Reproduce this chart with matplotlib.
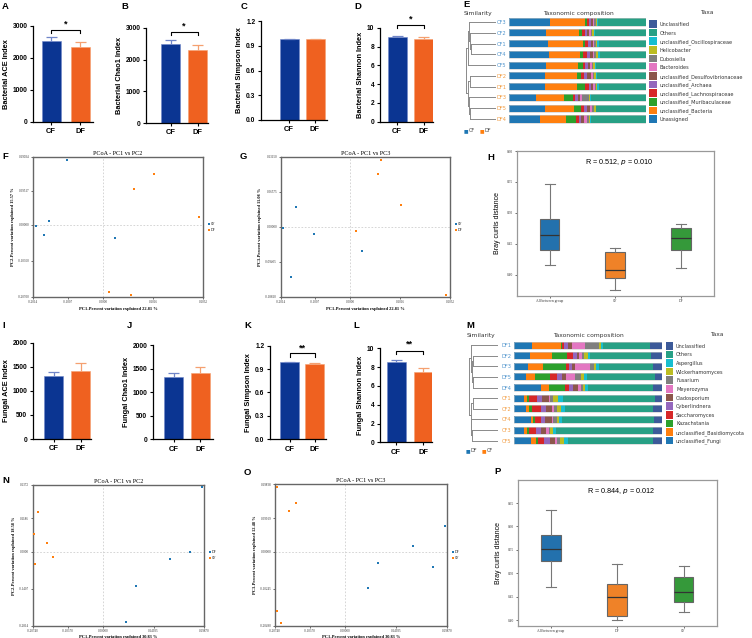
import numpy as np
import matplotlib
matplotlib.use("Agg")
import matplotlib.pyplot as plt

W, H = 752, 638

# ---------------- alpha diversity (mean, sd) ----------------
groups = ["CF", "DF"]
bac_ace, bac_ace_sd = [2531, 2334], [116, 156]
bac_chao1, bac_chao1_sd = [2504, 2305], [107, 148]
bac_simpson, bac_simpson_sd = [0.985, 0.985], [0.002, 0.002]
bac_shannon, bac_shannon_sd = [9.05, 8.80], [0.10, 0.22]
fun_ace, fun_ace_sd = [1308, 1406], [77, 166]
fun_chao1, fun_chao1_sd = [1315, 1400], [85, 140]
fun_simpson, fun_simpson_sd = [0.990, 0.965], [0.003, 0.015]
fun_shannon, fun_shannon_sd = [8.57, 7.48], [0.15, 0.39]

# ---------------- taxonomic composition (%) ----------------
bac_taxa = ["Unassigned", "unclassified_Bacteria", "unclassified_Muribaculaceae",
            "unclassified_Lachnospiraceae", "unclassified_Archaea",
            "unclassified_Desulfovibrionaceae", "Bacteroides", "Dubosiella",
            "Helicobacter", "unclassified_Oscillospiraceae", "Others", "Unclassified"]
bac_samples = ["CF3", "CF2", "CF1", "CF4", "CF5", "DF2", "DF1", "DF3", "DF5", "DF4"]
bac_comp = [
    [30.0, 25.5, 1.3, 1.8, 1.2, 1.5, 0.8, 1.2, 0.7, 0.8, 35.2, 0.0],
    [26.8, 24.1, 2.2, 2.2, 1.7, 1.5, 1.0, 1.2, 1.2, 1.0, 37.1, 0.0],
    [28.5, 25.1, 2.0, 2.2, 1.7, 1.5, 1.2, 1.2, 1.0, 1.0, 34.6, 0.0],
    [29.3, 22.7, 2.0, 3.2, 2.0, 1.7, 1.0, 1.5, 1.2, 1.5, 33.9, 0.0],
    [26.8, 23.7, 3.2, 2.0, 2.0, 1.5, 1.0, 1.2, 1.0, 0.7, 36.9, 0.0],
    [25.9, 23.7, 2.7, 2.2, 2.4, 3.2, 1.2, 1.0, 1.0, 0.5, 36.2, 0.0],
    [26.1, 23.2, 6.3, 2.4, 2.0, 1.5, 1.0, 1.0, 1.0, 1.0, 34.5, 0.0],
    [19.5, 20.5, 6.6, 1.7, 2.0, 1.5, 1.5, 5.1, 0.7, 0.5, 40.4, 0.0],
    [25.9, 21.5, 5.4, 2.0, 2.0, 2.4, 1.5, 1.5, 1.0, 0.5, 36.3, 0.0],
    [22.4, 18.8, 7.8, 2.0, 1.7, 1.7, 2.2, 1.5, 1.0, 1.0, 39.9, 0.0],
]
fun_taxa = ["unclassified_Fungi", "unclassified_Basidiomycota", "Kazachstania",
            "Saccharomyces", "Cyberlindnera", "Cladosporium", "Meyerozyma", "Fusarium",
            "Wickerhamomyces", "Aspergillus", "Others", "Unclassified"]
fun_samples = ["DF1", "DF2", "DF3", "DF5", "DF4", "CF1", "CF2", "CF4", "CF3", "CF5"]
fun_comp = [
    [12.1, 19.6, 0.5, 1.8, 2.5, 2.4, 9.0, 9.7, 1.1, 1.6, 31.4, 8.3],
    [10.8, 14.8, 10.1, 4.0, 2.5, 1.8, 1.8, 1.6, 2.2, 1.6, 41.1, 7.7],
    [9.2, 10.6, 15.3, 2.2, 1.6, 2.5, 9.9, 2.5, 1.6, 1.6, 36.9, 6.1],
    [8.1, 5.8, 10.3, 4.5, 3.4, 2.9, 6.1, 3.8, 2.0, 2.2, 46.0, 4.9],
    [18.2, 5.4, 10.6, 3.1, 2.7, 2.9, 2.0, 1.8, 1.3, 2.0, 43.9, 6.1],
    [7.0, 2.0, 1.1, 5.2, 3.8, 4.5, 0.9, 2.0, 3.4, 2.9, 62.3, 4.9],
    [8.1, 2.0, 2.0, 5.8, 4.0, 4.0, 0.9, 2.0, 3.1, 2.2, 59.8, 6.1],
    [11.2, 1.8, 1.1, 4.0, 2.7, 4.5, 0.9, 2.5, 1.8, 1.8, 62.1, 5.6],
    [7.0, 2.0, 1.1, 4.7, 3.1, 4.0, 1.8, 0.9, 1.8, 2.2, 65.3, 6.1],
    [11.5, 3.4, 1.1, 4.3, 4.0, 3.4, 1.1, 2.2, 2.7, 2.9, 57.3, 6.1],
]
# dendrograms: (child a, child b, height); new node ids continue after leaves
bac_tree = [(2, 3, 0.85), (1, 10, 0.88), (0, 11, 0.90), (12, 4, 0.93), (5, 6, 0.86),
            (8, 9, 0.86), (7, 15, 0.90), (14, 16, 0.93), (13, 17, 1.0)]
fun_tree = [(3, 4, 0.85), (1, 2, 0.87), (11, 10, 0.90), (0, 12, 0.93), (5, 6, 0.86),
            (8, 9, 0.90), (7, 15, 0.92), (14, 16, 0.94), (13, 17, 1.0)]

# ---------------- PCoA scores ----------------
bac_cf_pc1 = [-0.1044, -0.1928, -0.1562, -0.1706, 0.0238]
bac_cf_pc2 = [0.1819, -0.0020, 0.0112, -0.0288, -0.0374]
bac_cf_pc3 = [-0.0204, -0.0027, 0.0370, -0.1344, -0.0645]
bac_df_pc1 = [0.1036, 0.0624, 0.1951, 0.0128, 0.0563]
bac_df_pc2 = [0.1436, 0.1016, 0.0216, -0.1918, -0.2004]
bac_df_pc3 = [0.0402, 0.1253, -0.1827, -0.0116, 0.0990]
fun_df_pc1 = [0.2936, 0.2578, 0.1992, 0.0977, 0.0687]
fun_df_pc2 = [0.2311, 0.0000, -0.0278, -0.1304, -0.2685]
fun_df_pc3 = [0.0756, -0.0432, 0.0168, -0.0321, -0.0997]
fun_cf_pc1 = [-0.1905, -0.2024, -0.1659, -0.1461, -0.2015]
fun_cf_pc2 = [0.1401, 0.0619, 0.0320, -0.0190, -0.0479]
fun_cf_pc3 = [-0.1983, 0.1913, 0.1189, 0.1424, -0.1650]

bac_pc1_ticks = ["-0.2014", "-0.1007", "0.0000", "0.1016", "0.2032"]
bac_pc2_ticks = ["-0.20700", "-0.10350", "0.00000", "0.09517", "0.19034"]
bac_pc3_ticks = ["-0.18810", "-0.09405", "0.00000", "0.06575", "0.13150"]
fun_pc1_ticks = ["-0.20740", "-0.10370", "0.00000", "0.14935", "0.29870"]
fun_pc2_ticks = ["-0.2814", "-0.1407", "0.0000", "0.1186", "0.2372"]
fun_pc3_ticks = ["-0.20490", "-0.10245", "0.00000", "0.09919", "0.19838"]

# ---------------- Bray-Curtis boxes ----------------
bac_box_groups = ["All between group", "CF", "DF"]
bac_whislo = [0.416, 0.375, 0.411]
bac_q1 = [0.440, 0.395, 0.440]
bac_med = [0.464, 0.408, 0.459]
bac_q3 = [0.491, 0.437, 0.475]
bac_whishi = [0.546, 0.444, 0.482]
fun_box_groups = ["All between group", "DF", "CF"]
fun_whislo = [0.472, 0.400, 0.417]
fun_q1 = [0.526, 0.409, 0.439]
fun_med = [0.551, 0.449, 0.460]
fun_q3 = [0.582, 0.477, 0.493]
fun_whishi = [0.636, 0.521, 0.515]

# ---------------- styles ----------------
CF_C, DF_C = "#0b3592", "#ef6120"
CF_E, DF_E = "#7086c8", "#f5a070"
TAB = ["#1f77b4", "#ff7f0e", "#2ca02c", "#d62728", "#9467bd", "#8c564b",
       "#e377c2", "#7f7f7f", "#bcbd22", "#17becf", "#27a085", "#3c5a99"]
PT_BLUE, PT_ORANGE = "#1f77b4", "#ff7f0e"
LAB_BLUE, LAB_ORANGE = "#4f94cd", "#f29b3f"
BOX_C = ["#2371ad", "#ef8228", "#35993a"]
SANS = "Liberation Sans"
SERIF = "Liberation Serif"

plt.rcParams["font.family"] = [SANS, "DejaVu Sans"]
fig = plt.figure(figsize=(W / 100, H / 100), dpi=100)


def add_ax(l, t, r, b):
    return fig.add_axes([l / W, 1 - b / H, (r - l) / W, (b - t) / H])


def letter(x, y, s):
    fig.text(x / W, 1 - y / H, s, fontsize=6.8, fontweight="bold", va="top", ha="left")


def bar_panel(geom, vals, sds, ymax, yticks, ylabel, sig=None):
    l, t, r, b, c0, c1 = geom
    ax = add_ax(l, t, r, b)
    unit = c1 - c0
    x = np.arange(len(groups))
    tops = np.add(vals, sds)
    ax.bar(x, vals, width=19 / unit, color=[CF_C, DF_C], edgecolor=[CF_E, DF_E],
           linewidth=0.4, zorder=2)
    ax.vlines(x, vals, tops, colors=[CF_E, DF_E], lw=0.9, zorder=3)
    ax.hlines(tops, x - 5.5 / unit, x + 5.5 / unit, colors=[CF_E, DF_E], lw=0.9, zorder=3)
    ax.set_xlim((l - c0) / unit, (r - c0) / unit)
    ax.set_ylim(0, ymax)
    ax.set_yticks(yticks)
    ax.set_xticks(x, groups)
    for s in ("top", "right"):
        ax.spines[s].set_visible(False)
    for s in ("left", "bottom"):
        ax.spines[s].set_linewidth(0.9)
    ax.tick_params(length=2.5, width=0.8, labelsize=4.8, pad=1.5)
    ax.tick_params(axis="x", labelsize=5.4, pad=2)
    for lab in ax.get_xticklabels() + ax.get_yticklabels():
        lab.set_fontweight("bold")
    ax.set_ylabel(ylabel, fontsize=5.3, fontweight="bold", labelpad=2)
    if sig:
        yl, ys, txt = sig
        leg = 0.035 * ymax
        ax.plot([0, 0, 1, 1], [yl - leg, yl, yl, yl - leg], color="k", lw=0.8,
                clip_on=False)
        ax.text(0.5, ys, txt, ha="center", va="center", fontsize=6.5,
                fontweight="bold", clip_on=False)
    return ax


def piecewise(lo, hi, z):
    def fwd(v):
        v = np.asarray(v, dtype=float)
        return np.where(v < 0, v / -lo * z, v / hi * (1 - z))

    def inv(u):
        u = np.asarray(u, dtype=float)
        return np.where(u < 0, u / z * -lo, u / (1 - z) * hi)
    return fwd, inv


def pcoa_panel(geom, zeros, sets, xlim, ylim, xticks, yticks, title, xlabel, ylabel):
    l, t, r, b = geom
    ax = add_ax(l, t, r, b)
    ax.set_xscale("function", functions=piecewise(xlim[0], xlim[1], zeros[0]))
    ax.set_yscale("function", functions=piecewise(ylim[0], ylim[1], zeros[1]))
    ax.set_xlim(*xlim)
    ax.set_ylim(*ylim)
    ax.axhline(0, color="#cfcfcf", lw=0.6, ls=(0, (2, 2)), zorder=0)
    ax.axvline(0, color="#cfcfcf", lw=0.6, ls=(0, (2, 2)), zorder=0)
    for xs, ys, c, lab in sets:
        ax.scatter(xs, ys, s=4, marker="s", color=c, label=lab, linewidths=0, zorder=3)
    ax.set_xticks([xlim[0], xlim[0] / 2, 0, xlim[1] / 2, xlim[1]], xticks)
    ax.set_yticks([ylim[0], ylim[0] / 2, 0, ylim[1] / 2, ylim[1]], yticks)
    ax.tick_params(length=1.5, width=0.5, labelsize=2.3, pad=1, colors="#333333")
    for lab in ax.get_xticklabels() + ax.get_yticklabels():
        lab.set_family(SERIF)
    for s in ax.spines.values():
        s.set_color("#666666")
        s.set_linewidth(1.0)
    ax.set_title(title, fontsize=4.4, family=SERIF, pad=1.5)
    ax.set_xlabel(xlabel, fontsize=3.2, family=SERIF, fontweight="bold", labelpad=1.5)
    ax.set_ylabel(ylabel, fontsize=3.2, family=SERIF, fontweight="bold", labelpad=2)
    ax.legend(loc="center left", bbox_to_anchor=(1.02, 0.5), frameon=False,
              prop={"family": SERIF, "size": 2.6}, handletextpad=0.1,
              labelspacing=0.5, borderaxespad=0, handlelength=0.8, markerscale=1.0)
    return ax


def box_panel(geom, names, whislo, q1, med, q3, whishi, ylim, yticks, rtext):
    l, t, r, b = geom
    ax = add_ax(l, t, r, b)
    stats = [dict(label=n, whislo=a, q1=c, med=d, q3=e, whishi=f)
             for n, a, c, d, e, f in zip(names, whislo, q1, med, q3, whishi)]
    bp = ax.bxp(stats, positions=range(len(names)), widths=0.3, capwidths=0.15,
                patch_artist=True, showfliers=False,
                boxprops=dict(edgecolor="#666666", linewidth=0.8),
                medianprops=dict(color="#333333", linewidth=0.9),
                whiskerprops=dict(color="#777777", linewidth=0.8),
                capprops=dict(color="#777777", linewidth=0.8))
    for patch, c in zip(bp["boxes"], BOX_C):
        patch.set_facecolor(c)
    ax.set_xlim(-0.5, len(names) - 0.5)
    ax.set_ylim(*ylim)
    ax.set_yticks(yticks, [f"{v:.2f}" for v in yticks])
    ax.tick_params(length=1.5, width=0.5, labelsize=2.6, pad=1, colors="#333333")
    for lab in ax.get_xticklabels() + ax.get_yticklabels():
        lab.set_family(SERIF)
    for s in ax.spines.values():
        s.set_color("#999999")
        s.set_linewidth(0.9)
    ax.set_ylabel("Bray curtis distance", fontsize=5.0, labelpad=4)
    ax.text(0.52, 0.925, rtext, transform=ax.transAxes, ha="center", va="center",
            fontsize=5.2)
    return ax


def draw_tree(geom, merges, n):
    l, t, r, b = geom
    ax = add_ax(l, t, r, b)
    ypos = list(range(n))
    hgt = [0.0] * n
    for a, c, h in merges:
        for k in (a, c):
            ax.plot([hgt[k], h], [ypos[k], ypos[k]], color="#8a8a8a", lw=0.7)
        ax.plot([h, h], [ypos[a], ypos[c]], color="#8a8a8a", lw=0.7)
        ypos.append((ypos[a] + ypos[c]) / 2)
        hgt.append(h)
    ax.set_xlim(1.0, 0.0)
    ax.set_ylim(n - 0.5, -0.5)
    ax.axis("off")


def comp_panel(geom, comp, samples, lab_colors, taxa):
    l, t, r, b = geom
    ax = add_ax(l, t, r, b)
    comp = np.array(comp)
    y = np.arange(len(samples))
    left = np.zeros(len(samples))
    for k in range(comp.shape[1]):
        ax.barh(y, comp[:, k], left=left, height=0.66, color=TAB[k], linewidth=0)
        left = left + comp[:, k]
    ax.barh(y, left, height=0.66, fill=False, edgecolor="#c8c8c8", linewidth=0.4)
    ax.set_xlim(0, left.max())
    ax.set_ylim(len(samples) - 0.5, -0.5)
    ax.set_yticks(y, samples)
    ax.set_xticks([])
    ax.tick_params(length=0, pad=2, labelsize=3.7)
    for lab, c in zip(ax.get_yticklabels(), lab_colors):
        lab.set_color(c)
        lab.set_family("DejaVu Sans")
    for s in ax.spines.values():
        s.set_visible(False)
    return ax


def taxa_legend(geom, taxa):
    l, t, r, b = geom
    ax = add_ax(l, t, r, b)
    y = np.arange(len(taxa))
    ax.barh(y, [1] * len(taxa), height=0.88, color=TAB[::-1], linewidth=0)
    ax.set_ylim(len(taxa) - 0.5, -0.5)
    ax.set_xlim(0, 1)
    ax.yaxis.tick_right()
    ax.set_yticks(y, taxa[::-1])
    ax.set_xticks([])
    ax.tick_params(length=0, pad=2, labelsize=3.6)
    for lab in ax.get_yticklabels():
        lab.set_family("DejaVu Sans")
        lab.set_color("#333333")
    for s in ax.spines.values():
        s.set_visible(False)


def head_texts(y, x_sim, x_comp, x_taxa):
    kw = dict(fontsize=4.3, family="DejaVu Sans", va="center", color="#333333")
    fig.text(x_sim / W, 1 - y / H, "Similarity", ha="left", **kw)
    fig.text(x_comp / W, 1 - y / H, "Taxonomic composition", ha="center", **kw)
    fig.text(x_taxa / W, 1 - y / H, "Taxa", ha="center", **kw)


def group_key(x, y, names, colors):
    for i, (n, c) in enumerate(zip(names, colors)):
        xx = x + i * 16
        fig.text(xx / W, 1 - y / H, "\u25a0", color=c, fontsize=3.5,
                 family="DejaVu Sans", va="center", ha="left")
        fig.text((xx + 4.5) / W, 1 - y / H, n, color="#444444", fontsize=3.5,
                 family="DejaVu Sans", va="center", ha="left")


# ---------------- row 1: bacterial alpha diversity ----------------
bar_panel((33, 26, 93, 122, 51, 80), bac_ace, bac_ace_sd, 3000, [0, 1000, 2000, 3000],
          "Bacterial ACE Index", sig=(2875, 3065, "*"))
bar_panel((146, 28, 208, 123, 170.5, 197.5), bac_chao1, bac_chao1_sd, 3000,
          [0, 1000, 2000, 3000], "Bacterial Chao1 Index", sig=(2880, 3065, "*"))
bar_panel((261, 21, 327, 120, 289, 315), bac_simpson, bac_simpson_sd, 1.2,
          [0.0, 0.3, 0.6, 0.9, 1.2], "Bacterial Simpson Index")
bar_panel((380, 27.7, 433, 121.7, 397, 423.5), bac_shannon, bac_shannon_sd, 10,
          [0, 2, 4, 6, 8, 10], "Bacterial Shannon Index", sig=(10.29, 10.9, "*"))

# E: bacterial composition
draw_tree((466, 16.6, 496, 124.4), bac_tree, len(bac_samples))
comp_panel((509.3, 16.6, 646, 124.4), bac_comp, bac_samples,
           [LAB_BLUE if s.startswith("CF") else LAB_ORANGE for s in bac_samples], bac_taxa)
taxa_legend((649, 19.7, 657, 123.3), bac_taxa)
head_texts(13, 464, 578, 707)
group_key(464, 131, ["CF", "DF"], [PT_BLUE, PT_ORANGE])

# ---------------- row 2: bacterial beta diversity ----------------
pcoa_panel((33, 157, 203, 297), (70 / 170, 72 / 140),
           [(bac_cf_pc1, bac_cf_pc2, PT_BLUE, "CF"), (bac_df_pc1, bac_df_pc2, PT_ORANGE, "DF")],
           (-0.2014, 0.2032), (-0.2070, 0.19034), bac_pc1_ticks, bac_pc2_ticks,
           "PCoA - PC1 vs PC2", "PC1-Percent variation explained 22.81 %",
           "PC2-Percent variation explained 15.57 %")
pcoa_panel((280.5, 157, 450, 297), (69.5 / 169.5, 70.3 / 140),
           [(bac_cf_pc1, bac_cf_pc3, PT_BLUE, "CF"), (bac_df_pc1, bac_df_pc3, PT_ORANGE, "DF")],
           (-0.2014, 0.2032), (-0.1881, 0.1315), bac_pc1_ticks, bac_pc3_ticks,
           "PCoA - PC1 vs PC3", "PC1-Percent variation explained 22.81 %",
           "PC3-Percent variation explained 11.08 %")
box_panel((516.7, 150.7, 714, 296), bac_box_groups, bac_whislo, bac_q1, bac_med, bac_q3,
          bac_whishi, (0.366, 0.6005), [0.40, 0.45, 0.50, 0.55, 0.60],
          r"R = 0.512, $\it{p}$ = 0.010")

# ---------------- row 3: fungal alpha diversity ----------------
bar_panel((33, 342.7, 91, 439, 53.5, 80.5), fun_ace, fun_ace_sd, 2000,
          [0, 500, 1000, 1500, 2000], "Fungal ACE Index")
bar_panel((153, 345, 213, 439.3, 173.5, 200), fun_chao1, fun_chao1_sd, 2000,
          [0, 500, 1000, 1500, 2000], "Fungal Chao1 Index")
bar_panel((270, 345.7, 326, 439.3, 289.5, 314.5), fun_simpson, fun_simpson_sd, 1.2,
          [0.0, 0.3, 0.6, 0.9, 1.2], "Fungal Simpson Index", sig=(1.103, 1.167, "**"))
bar_panel((380, 348.3, 432, 442.3, 396.2, 423.3), fun_shannon, fun_shannon_sd, 10,
          [0, 2, 4, 6, 8, 10], "Fungal Shannon Index", sig=(9.71, 10.4, "**"))

# M: fungal composition
draw_tree((469, 339.7, 498, 446), fun_tree, len(fun_samples))
comp_panel((514, 339.7, 662.3, 446), fun_comp, fun_samples,
           [LAB_BLUE if s.startswith("DF") else LAB_ORANGE for s in fun_samples], fun_taxa)
taxa_legend((665.7, 341.4, 673.3, 445), fun_taxa)
head_texts(335, 466.7, 588.3, 716.7)
group_key(466, 451, ["DF", "CF"], [PT_BLUE, PT_ORANGE])

# ---------------- row 4: fungal beta diversity ----------------
pcoa_panel((32.5, 485, 204, 625.7), (70.5 / 171.5, 74 / 140.7),
           [(fun_df_pc1, fun_df_pc2, PT_BLUE, "DF"), (fun_cf_pc1, fun_cf_pc2, PT_ORANGE, "CF")],
           (-0.2074, 0.2987), (-0.2814, 0.2372), fun_pc1_ticks, fun_pc2_ticks,
           "PCoA - PC1 vs PC2", "PC1-Percent variation explained 30.83 %",
           "PC2-Percent variation explained 18.58 %")
pcoa_panel((275, 484.3, 446.7, 625.7), (70 / 171.7, 74 / 141.4),
           [(fun_df_pc1, fun_df_pc3, PT_BLUE, "DF"), (fun_cf_pc1, fun_cf_pc3, PT_ORANGE, "CF")],
           (-0.2074, 0.2987), (-0.2049, 0.19838), fun_pc1_ticks, fun_pc3_ticks,
           "PCoA - PC1 vs PC3", "PC1-Percent variation explained 30.83 %",
           "PC3-Percent variation explained 12.48 %")
box_panel((517.7, 480, 716.7, 626), fun_box_groups, fun_whislo, fun_q1, fun_med, fun_q3,
          fun_whishi, (0.388, 0.699), [0.40, 0.45, 0.50, 0.55, 0.60, 0.65],
          r"R = 0.844, $\it{p}$ = 0.012")

# ---------------- panel letters ----------------
for x, y, s in [(2, 2, "A"), (121, 2, "B"), (241, 2, "C"), (354, 2, "D"), (463, 0, "E"),
                (2, 152, "F"), (240, 152, "G"), (487, 153, "H"),
                (2, 321, "I"), (127, 321, "J"), (244, 321, "K"), (353, 321, "L"),
                (466, 321, "M"), (2, 476, "N"), (244, 468, "O"), (494, 467, "P")]:
    letter(x, y, s)

fig.savefig("out.png", dpi=100)
